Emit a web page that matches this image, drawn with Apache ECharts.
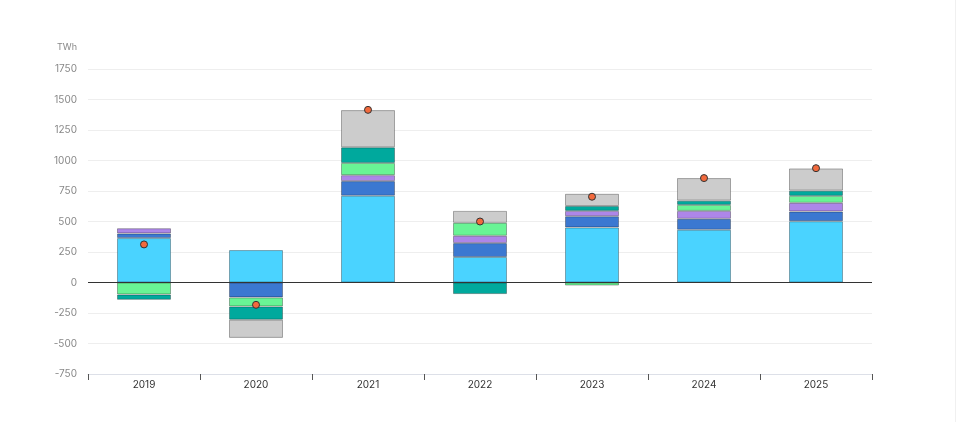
<!DOCTYPE html>
<html>
<head>
<meta charset="utf-8">
<script src="https://cdn.jsdelivr.net/npm/echarts@6/dist/echarts.min.js"></script>
<style>
  html, body { margin: 0; padding: 0; background: #fff; }
  #chart { width: 955px; height: 422px; border-right: 1px solid #f0f0f0; }
</style>
</head>
<body>
<div id="chart"></div>
<script>
// 年份
const years = ['2019', '2020', '2021', '2022', '2023', '2024', '2025'];

// 各类别的年度变化 (TWh)
const solar = [364, 266, 711, 209, 451, 432, 502];
const wind = [38, -122, 120, 114, 92, 90, 80];
const bio = [43, null, 49, 60, 44, 65, 71];
const hydro = [-98, -74, 100, 106, -25, 49, 57];
const nuclear = [-44, -109, 128, -95, 40, 35, 43];
const other = [null, -149, 305, 98, 100, 185, 182];

// 净变化 (圆点)
const netChange = [312, -183, 1415, 500, 703, 856, 937];

const yTicks = { min: -750, max: 1750, interval: 250 };

const myChart = echarts.init(document.getElementById('chart'));

function barSeries(name, data, color) {
    return {
        name: name,
        type: 'bar',
        stack: 'total',
        barWidth: 54,
        data: data,
        itemStyle: {
            color: color,
            borderColor: 'rgba(0, 0, 0, 0.3)',
            borderWidth: 1
        },
        emphasis: { disabled: true }
    };
}

const series = [
    barSeries('Solar', solar, '#4AD3FF'),
    barSeries('Wind', wind, '#3B78D1'),
    barSeries('Bioenergy', bio, '#AD86E8'),
    barSeries('Hydro', hydro, '#69F495'),
    barSeries('Nuclear', nuclear, '#00A99D'),
    barSeries('Other', other, '#CCCCCC'),
    {
        name: 'Net change',
        type: 'scatter',
        data: netChange,
        symbolSize: 7,
        z: 10,
        itemStyle: {
            color: '#F26A3D',
            borderColor: '#333',
            borderWidth: 1,
            opacity: 1
        }
    }
];

// 零线
series[0].markLine = {
    silent: true,
    symbol: 'none',
    label: { show: false },
    lineStyle: { color: '#333', width: 1, type: 'solid' },
    data: [{ yAxis: 0 }]
};

const option = {
    backgroundColor: '#fff',
    animation: false,
    textStyle: { fontFamily: 'Inter, Lato, sans-serif' },
    title: {
        text: 'TWh',
        left: 52,
        top: 38,
        textStyle: { fontSize: 9, fontWeight: 'normal', color: '#888' }
    },
    grid: { left: 88, right: 83, top: 69, bottom: 48 },
    xAxis: {
        type: 'category',
        data: years,
        axisLine: { onZero: false, lineStyle: { color: '#dde0e8' } },
        axisTick: { show: true, length: 6, lineStyle: { color: '#555' } },
        axisLabel: { color: '#333', fontSize: 10, margin: 6 }
    },
    yAxis: {
        type: 'value',
        min: yTicks.min,
        max: yTicks.max,
        interval: yTicks.interval,
        axisLine: { show: false },
        axisTick: { show: false },
        axisLabel: {
            color: '#888',
            fontSize: 10,
            margin: 11,
            formatter: function (v) { return String(v); }
        },
        splitLine: { lineStyle: { color: '#eeeeee' } }
    },
    series: series
};

myChart.setOption(option);
</script>
</body>
</html>
